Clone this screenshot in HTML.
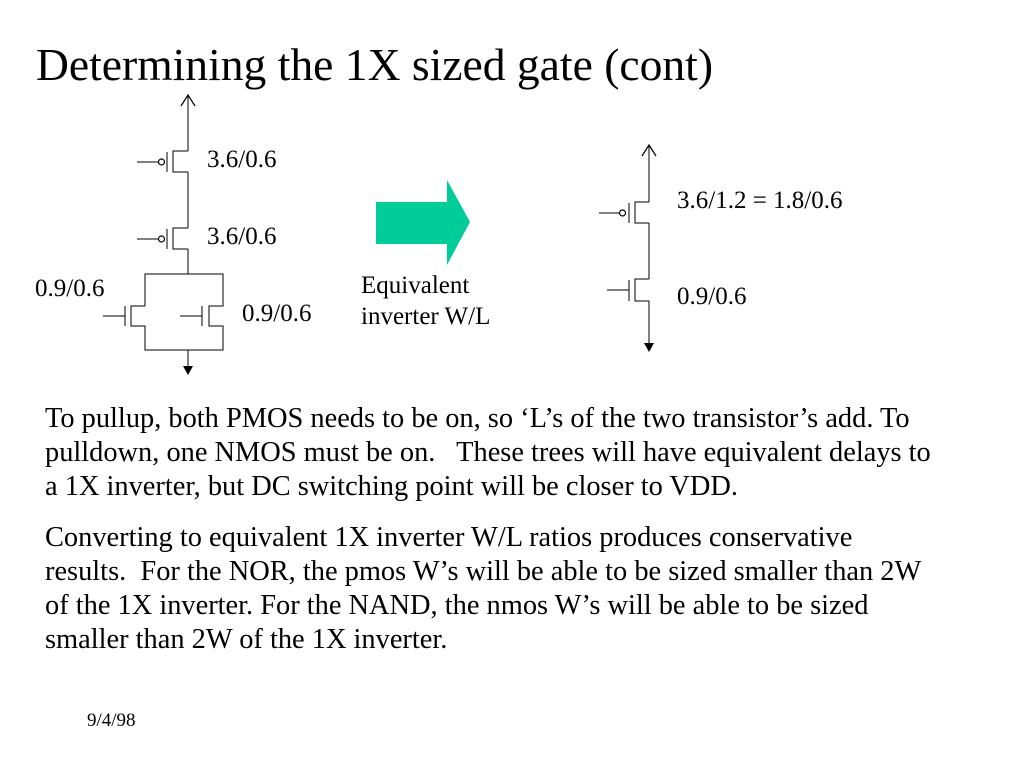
<!DOCTYPE html>
<html>
<head>
<meta charset="utf-8">
<style>
html,body{margin:0;padding:0;background:#fff;}
body{width:1024px;height:768px;overflow:hidden;}
svg{display:block;}
text{font-family:"Liberation Serif","Times New Roman",serif;fill:#000;white-space:pre;}
</style>
</head>
<body>
<svg width="1024" height="768" viewBox="0 0 1024 768" xmlns="http://www.w3.org/2000/svg">
<rect x="0" y="0" width="1024" height="768" fill="#fff"/>

<!-- Title -->
<text x="36" y="80" font-size="46" textLength="677" lengthAdjust="spacingAndGlyphs">Determining the 1X sized gate (cont)</text>

<!-- Left circuit -->
<g stroke="#000" stroke-width="1.3" fill="none" shape-rendering="crispEdges">
  <line x1="188" y1="95" x2="188" y2="151"/>
  <polyline points="188,151 173,151 173,172 188,172"/>
  <line x1="167" y1="152" x2="167" y2="172"/>
  <line x1="137" y1="162" x2="158" y2="162"/>
  <line x1="188" y1="172" x2="188" y2="228"/>
  <polyline points="188,228 173,228 173,249 188,249"/>
  <line x1="167" y1="229" x2="167" y2="249"/>
  <line x1="137" y1="239" x2="158" y2="239"/>
  <line x1="188" y1="249" x2="188" y2="274"/>
  <polyline points="145,306 145,274 223,274 223,306 209,306 209,326 223,326 223,350 145,350 145,326 131,326 131,306 145,306"/>
  <line x1="125" y1="306" x2="125" y2="326"/>
  <line x1="103" y1="316" x2="125" y2="316"/>
  <line x1="202" y1="306" x2="202" y2="326"/>
  <line x1="180" y1="316" x2="202" y2="316"/>
  <line x1="188" y1="350" x2="188" y2="367"/>
</g>
<g stroke="#000" stroke-width="1.2" fill="#fff">
  <circle cx="161.5" cy="162" r="3"/>
  <circle cx="161.5" cy="239" r="3"/>
</g>
<polyline points="181,106 188,95 195,106" stroke="#000" stroke-width="1.2" fill="none"/>
<polygon points="183,366 193,366 188,375" fill="#000"/>

<text x="207" y="167" font-size="25">3.6/0.6</text>
<text x="207" y="244" font-size="25">3.6/0.6</text>
<text x="35" y="296" font-size="25">0.9/0.6</text>
<text x="242" y="321" font-size="25">0.9/0.6</text>

<!-- Green arrow -->
<polygon points="376,202 447,202 447,180 470,222 447,265 447,244 376,244" fill="#00cc99"/>
<text x="361" y="293" font-size="25">Equivalent</text>
<text x="361" y="324" font-size="25">inverter W/L</text>

<!-- Right circuit -->
<g stroke="#000" stroke-width="1.3" fill="none" shape-rendering="crispEdges">
  <line x1="649" y1="145" x2="649" y2="202"/>
  <polyline points="649,202 635,202 635,223 649,223"/>
  <line x1="629" y1="203" x2="629" y2="223"/>
  <line x1="599" y1="213" x2="619" y2="213"/>
  <line x1="649" y1="223" x2="649" y2="279"/>
  <polyline points="649,279 635,279 635,301 649,301"/>
  <line x1="629" y1="280" x2="629" y2="301"/>
  <line x1="607" y1="290" x2="629" y2="290"/>
  <line x1="649" y1="301" x2="649" y2="344"/>
</g>
<circle cx="622.5" cy="213" r="3" stroke="#000" stroke-width="1.2" fill="#fff"/>
<polyline points="642,156 649,145 656,156" stroke="#000" stroke-width="1.2" fill="none"/>
<polygon points="644,343 654,343 649,352" fill="#000"/>

<text x="677" y="208" font-size="25">3.6/1.2 = 1.8/0.6</text>
<text x="677" y="304" font-size="25">0.9/0.6</text>

<!-- Body text -->
<g font-size="28.4">
<text x="45" y="427">To pullup, both PMOS needs to be on, so ‘L’s of the two transistor’s add. To</text>
<text x="45" y="461">pulldown, one NMOS must be on.   These trees will have equivalent delays to</text>
<text x="45" y="495">a 1X inverter, but DC switching point will be closer to VDD.</text>
<text x="45" y="546">Converting to equivalent 1X inverter W/L ratios produces conservative</text>
<text x="45" y="580">results.  For the NOR, the pmos W’s will be able to be sized smaller than 2W</text>
<text x="45" y="614">of the 1X inverter. For the NAND, the nmos W’s will be able to be sized</text>
<text x="45" y="648">smaller than 2W of the 1X inverter.</text>
</g>

<!-- Date -->
<text x="87" y="726" font-size="19">9/4/98</text>
</svg>
</body>
</html>
